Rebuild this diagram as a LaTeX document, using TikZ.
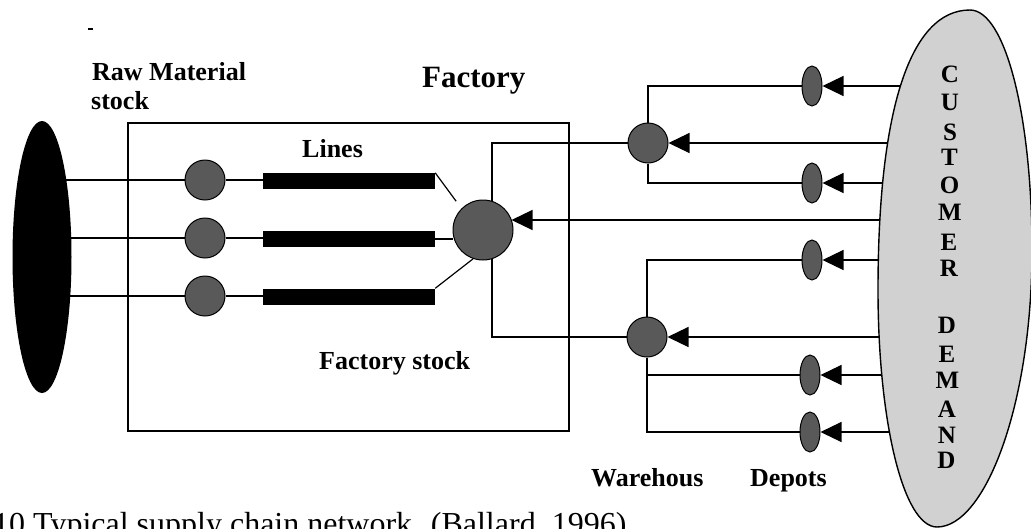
\documentclass[tikz,border=0pt]{standalone}
\usepackage{fontspec}
\setmainfont{Liberation Serif}
\usetikzlibrary{arrows.meta,shapes.geometric,backgrounds}
\tikzset{
  conn/.style={line width=1.2pt},
  feed/.style={conn, -{Triangle[length=21pt,width=20pt]}},
  stockc/.style={circle, draw=black, line width=1pt, fill=black!65,
                 minimum size=40pt, inner sep=0pt},
  bigstock/.style={stockc, minimum size=60pt},
  depot/.style={ellipse, draw=black, line width=1pt, fill=black!65,
                minimum width=20pt, minimum height=40pt, inner sep=0pt},
  linebar/.style={rectangle, fill=black, minimum width=172pt,
                  minimum height=16pt, inner sep=0pt},
  lbl/.style={font=\fontsize{26}{29}\selectfont\bfseries, inner sep=0pt,
              anchor=base west},
  letter/.style={font=\fontsize{25}{25}\selectfont\bfseries, inner sep=0pt},
}
\begin{document}
\begin{tikzpicture}[x=1pt,y=-1pt]
\useasboundingbox (0,0) rectangle (1031,528);
\clip (0,0) rectangle (1031,528);

% raw material stock
\node[ellipse, fill=black, minimum width=59pt, minimum height=272pt,
      inner sep=0pt] (raw) at (42,257) {};

% input stock points and production lines
\node[stockc] (c1) at (205,180) {};
\node[stockc] (c2) at (205,238) {};
\node[stockc] (c3) at (205,296) {};
\node[linebar] (b1) at (349,181) {};
\node[linebar] (b2) at (349,239) {};
\node[linebar] (b3) at (349,296.5) {};

% factory stock
\node[bigstock] (fc) at (483,230) {};
\coordinate (fsk) at (492,143);
\coordinate (fcin) at (511.5,220);

% warehouses and depots
\node[stockc] (w1) at (648,143) {};
\node[stockc] (w2) at (647,337) {};
\node[depot] (d1) at (812,86) {};
\node[depot] (d2) at (812,183) {};
\node[depot] (d3) at (812,260) {};
\node[depot] (d4) at (810,375) {};
\node[depot] (d5) at (810,432) {};

\coordinate (cust) at (955,268);

\begin{scope}[on background layer]
  \fill[white] (0,0) rectangle (1031,528);
  % factory boundary
  \draw[conn] (128,123) rectangle (569,431);
  % raw material feeds
  \draw[conn] (c1) -- (c1 -| raw);
  \draw[conn] (c2) -- (c2 -| raw);
  \draw[conn] (c3) -- (c3 -| raw);
  \draw[conn] (c1) -- (c1 -| b1.west);
  \draw[conn] (c2) -- (c2 -| b2.west);
  \draw[conn] (c3) -- (c3 -| b3.west);
  % lines into factory stock
  \draw[conn, shorten >=9pt] (b1.north east) -- (fc.135);
  \draw[conn] (b2.east) -- (b2.east -| fc.west);
  \draw[conn] (b3.north east) -- (fc.251);
  % factory stock to warehouses
  \draw[conn] (w1) -- (fsk) |- (w2);
  % warehouses to depots
  \draw[conn] (w1) |- (d1);
  \draw[conn] (w1) |- (d2);
  \draw[conn] (w2) |- (d3);
  \draw[conn] (w2) |- (d4);
  \draw[conn] (w2) |- (d5);
  % demand signals
  \draw[feed] (cust |- d1.east) -- (d1.east);
  \draw[feed] (cust |- d2.east) -- (d2.east);
  \draw[feed] (cust |- d3.east) -- (d3.east);
  \draw[feed] (cust |- d4.east) -- (d4.east);
  \draw[feed] (cust |- d5.east) -- (d5.east);
  \draw[feed] (cust |- w1.east) -- (w1.east);
  \draw[feed] (cust |- w2.east) -- (w2.east);
  \draw[feed] (cust |- fcin) -- (fcin);
\end{scope}

% customer demand
\filldraw[fill=black!18, draw=black, line width=1.4pt]
  (970,10) .. controls (1005,10) and (1032,115) .. (1032,250)
           .. controls (1032,405) and (985,527) .. (937,527)
           .. controls (903,527) and (878,420) .. (878,290)
           .. controls (878,110) and (910,10) .. (970,10) -- cycle;
\foreach \ch/\xx/\yy [count=\i] in {C/950/74, U/950/102, S/950/132,
    T/949.5/157, O/949.5/185, M/950/212, E/949/242, R/949/268,
    D/947/325, E/947/354, M/947.5/380, A/947/409, N/947/435, D/946.5/460}
  \node[letter] (cd\i) at (\xx,\yy) {\ch};

% labels
\node[lbl] (rawl1) at (92,80) {Raw Material};
\node[lbl] (rawl2) at (91,109) {stock};
\node[lbl, font=\fontsize{31}{31}\selectfont\bfseries] (factl) at (422,87) {Factory};
\node[lbl] (linesl) at (302,157) {Lines};
\node[lbl] (fstockl) at (319,369) {Factory stock};
\node[lbl] (whl) at (591,486) {Warehous};
\node[lbl] (dpl) at (750,486) {Depots};
\draw[line width=1.2pt] (88,29) -- (93,29);

% caption
\node[anchor=base west, inner sep=0pt, font=\fontsize{32}{32}\selectfont]
  (cap) at (-7,534) {10 Typical supply chain network. (Ballard, 1996)};
\end{tikzpicture}
\end{document}
